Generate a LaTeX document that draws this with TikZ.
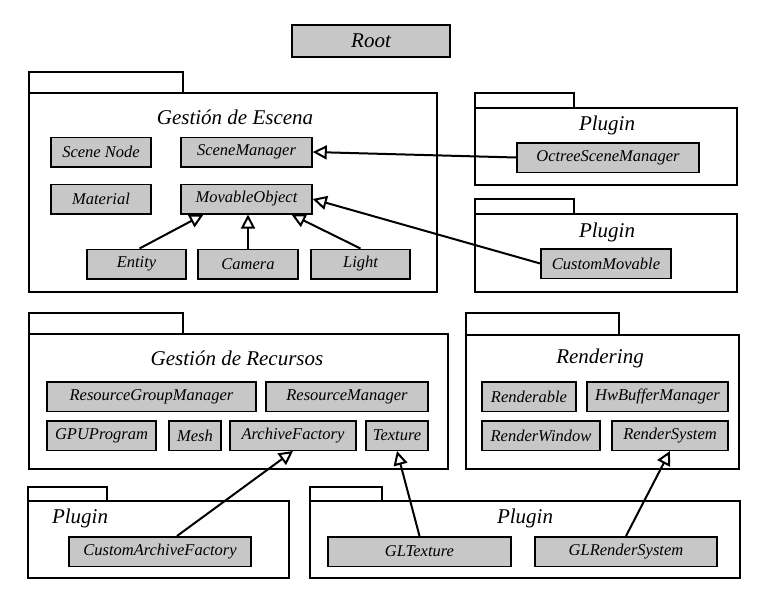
\documentclass[tikz,border=0pt]{standalone}
\usepackage{fontspec}
\newfontfamily\umlfont{LiberationSerif}[Extension=.ttf, UprightFont=*-Regular, ItalicFont=*-Italic]
\usetikzlibrary{arrows.meta}

\tikzset{
  cls/.style={draw, line width=1.5pt, fill=black!22, inner sep=0pt,
    minimum height=29.5pt, font=\umlfont\fontsize{16.5}{18}\selectfont\itshape},
  pkg/.style={draw, line width=2pt},
  ptitle/.style={font=\umlfont\fontsize{21}{24}\selectfont\itshape},
  inherit/.style={line width=2pt, -{Triangle[open, length=14pt, width=14pt, line width=2pt]}}
}

\begin{document}
\begin{tikzpicture}[x=1pt, y=-1pt]
  \useasboundingbox (0,0) rectangle (768,589);

  % Root
  \node[cls, minimum width=158pt, minimum height=32pt, font=\umlfont\fontsize{21}{24}\selectfont\itshape] (root) at (371,41) {Root};

  % packages (tab + body)
  \draw[pkg] (29,93) -- (29,72) -- (183,72) -- (183,93);
  \draw[pkg] (29,93) rectangle (437,292);
  \draw[pkg] (475,108) -- (475,93) -- (574,93) -- (574,108);
  \draw[pkg] (475,108) rectangle (737,185);
  \draw[pkg] (475,214) -- (475,199) -- (574,199) -- (574,214);
  \draw[pkg] (475,214) rectangle (737,292);
  \draw[pkg] (29,334) -- (29,313) -- (183,313) -- (183,334);
  \draw[pkg] (29,334) rectangle (448,469);
  \draw[pkg] (466,335) -- (466,313) -- (619,313) -- (619,335);
  \draw[pkg] (466,335) rectangle (739,469);
  \draw[pkg] (28,501) -- (28,487) -- (107,487) -- (107,501);
  \draw[pkg] (28,501) rectangle (289,578);
  \draw[pkg] (310,501) -- (310,487) -- (382,487) -- (382,501);
  \draw[pkg] (310,501) rectangle (740,578);

  % package titles
  \node[ptitle] (tescena) at (235,117) {Gestión de Escena};
  \node[ptitle] (tplugin1) at (607,125) {Plugin};
  \node[ptitle] (tplugin2) at (607,232) {Plugin};
  \node[ptitle] (trecursos) at (237,358) {Gestión de Recursos};
  \node[ptitle] (trender) at (600,358) {Rendering};
  \node[ptitle] (tplugin3) at (80,518) {Plugin};
  \node[ptitle] (tplugin4) at (525,518) {Plugin};

  % Gestion de Escena
  \node[cls, minimum width=100pt] (scenenode) at (101,152) {Scene Node};
  \node[cls, minimum width=131pt] (scenemgr) at (246.5,152) {SceneManager};
  \node[cls, minimum width=100pt] (material) at (101,199) {Material};
  \node[cls, minimum width=131pt] (movobj) at (246.5,199) {MovableObject};
  \node[cls, minimum width=99pt] (entity) at (136.5,264) {Entity};
  \node[cls, minimum width=100pt] (camera) at (248,264) {Camera};
  \node[cls, minimum width=99pt] (light) at (360.5,264) {Light};

  % Plugins (escena)
  \node[cls, minimum width=182pt] (octree) at (608,157.5) {OctreeSceneManager};
  \node[cls, minimum width=130pt] (custmov) at (606,263.5) {CustomMovable};

  % Gestion de Recursos
  \node[cls, minimum width=209pt] (resgroup) at (151.5,396.5) {ResourceGroupManager};
  \node[cls, minimum width=162pt] (resmgr) at (347,396.5) {ResourceManager};
  \node[cls, minimum width=109pt] (gpuprog) at (101.5,435.5) {GPUProgram};
  \node[cls, minimum width=52pt] (mesh) at (195,435.5) {Mesh};
  \node[cls, minimum width=126pt] (archfact) at (293,435.5) {ArchiveFactory};
  \node[cls, minimum width=62pt] (texture) at (397,435.5) {Texture};

  % Rendering
  \node[cls, minimum width=94pt] (renderable) at (529,396.5) {Renderable};
  \node[cls, minimum width=141pt] (hwbuf) at (657.5,396.5) {HwBufferManager};
  \node[cls, minimum width=118pt] (renderwin) at (541,435.5) {RenderWindow};
  \node[cls, minimum width=116pt] (rsys) at (670,435.5) {RenderSystem};

  % Plugins (abajo)
  \node[cls, minimum width=182pt] (cafact) at (160,551.5) {CustomArchiveFactory};
  \node[cls, minimum width=183pt] (gltex) at (419.5,551.5) {GLTexture};
  \node[cls, minimum width=182pt] (glrsys) at (626,551.5) {GLRenderSystem};

  % herencia
  \draw[inherit] ([xshift=3pt]entity.north) -- ([xshift=-43pt]movobj.south);
  \draw[inherit] (camera.north) -- (camera.north |- movobj.south);
  \draw[inherit] (light.north) -- ([xshift=45pt]movobj.south);
  \draw[inherit] (octree.west) -- (scenemgr.east);
  \draw[inherit] (custmov.west) -- (movobj.east);
  \draw[inherit] ([xshift=17pt]cafact.north) -- (archfact.south);
  \draw[inherit] (gltex.north) -- (texture.south);
  \draw[inherit] (glrsys.north) -- (rsys.south);
\end{tikzpicture}
\end{document}
